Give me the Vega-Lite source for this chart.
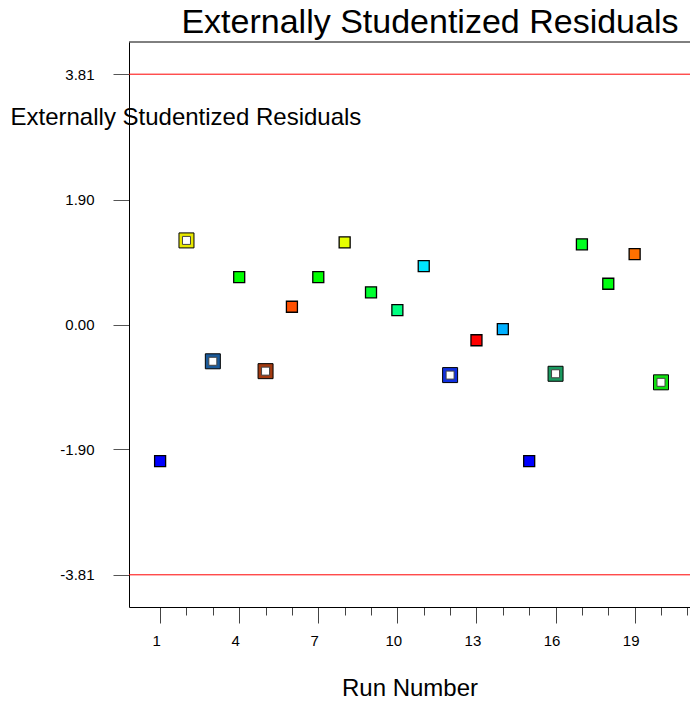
{
  "$schema": "https://vega.github.io/schema/vega-lite/v6.json",
  "width": 561,
  "height": 565,
  "autosize": "none",
  "padding": {"left": 129, "top": 42, "right": 0, "bottom": 121},
  "background": "white",
  "title": {
    "text": "Externally Studentized Residuals",
    "anchor": "end",
    "fontSize": 34,
    "fontWeight": "normal",
    "font": "Liberation Sans",
    "color": "black",
    "baseline": "alphabetic",
    "offset": 4,
    "dy": 29,
    "dx": -12
  },
  "config": {
    "view": {"stroke": null},
    "font": "Liberation Sans",
    "axis": {"labelOverlap": false, "labelBound": false, "labelFlush": false}
  },
  "datasets": {
    "runs": [
      {"run": 1, "residual": -2.08, "flagged": false},
      {"run": 2, "residual": 1.28, "flagged": true},
      {"run": 3, "residual": -0.56, "flagged": true},
      {"run": 4, "residual": 0.72, "flagged": false},
      {"run": 5, "residual": -0.71, "flagged": true},
      {"run": 6, "residual": 0.27, "flagged": false},
      {"run": 7, "residual": 0.72, "flagged": false},
      {"run": 8, "residual": 1.25, "flagged": false},
      {"run": 9, "residual": 0.49, "flagged": false},
      {"run": 10, "residual": 0.22, "flagged": false},
      {"run": 11, "residual": 0.89, "flagged": false},
      {"run": 12, "residual": -0.77, "flagged": true},
      {"run": 13, "residual": -0.24, "flagged": false},
      {"run": 14, "residual": -0.07, "flagged": false},
      {"run": 15, "residual": -2.08, "flagged": false},
      {"run": 16, "residual": -0.75, "flagged": true},
      {"run": 17, "residual": 1.22, "flagged": false},
      {"run": 18, "residual": 0.62, "flagged": false},
      {"run": 19, "residual": 1.07, "flagged": false},
      {"run": 20, "residual": -0.88, "flagged": true}
    ],
    "limits": [{"residual": 3.81}, {"residual": -3.81}]
  },
  "encoding": {
    "y": {
      "field": "residual",
      "type": "quantitative",
      "scale": {"domain": [-4.30, 4.30], "nice": false, "zero": false},
      "axis": {
        "values": [-3.81, -1.90, 0, 1.90, 3.81],
        "labelExpr": "datum.value < 0 ? '-' + format(-datum.value, '.2f') : format(datum.value, '.2f')",
        "grid": false,
        "domainColor": "black",
        "tickColor": "#555555",
        "tickSize": 16,
        "labelPadding": 19,
        "labelFontSize": 15,
        "labelColor": "black",
        "labelFont": "Liberation Sans",
        "title": "Externally Studentized Residuals",
        "titleAngle": 0,
        "titleX": -119,
        "titleY": 75,
        "titleAlign": "left",
        "titleBaseline": "middle",
        "titleFontSize": 24,
        "titleFontWeight": "normal",
        "titleFont": "Liberation Sans",
        "titleColor": "black"
      }
    },
    "x": {
      "field": "run",
      "type": "quantitative",
      "scale": {"domain": [-0.18, 21.1], "nice": false, "zero": false},
      "axis": {
        "values": [1,2,3,4,5,6,7,8,9,10,11,12,13,14,15,16,17,18,19,20,21],
        "labelExpr": "(datum.value - 1) % 3 === 0 ? datum.label : ''",
        "labelOverlap": false,
        "grid": false,
        "domainColor": "black",
        "tickColor": "#444444",
        "tickSize": {"condition": {"test": "(datum.value - 1) % 3 === 0", "value": 16}, "value": 8},
        "labelPadding": 10,
        "labelOffset": -4,
        "labelFontSize": 15,
        "labelColor": "black",
        "labelFont": "Liberation Sans",
        "title": "Run Number",
        "titleY": 81,
        "titleBaseline": "middle",
        "titleFontSize": 24,
        "titleFontWeight": "normal",
        "titleFont": "Liberation Sans",
        "titleColor": "black"
      }
    }
  },
  "layer": [
    {
      "data": {"name": "runs"},
      "transform": [{"filter": "!datum.flagged"}],
      "mark": {"type": "square", "size": 121, "filled": true, "stroke": "black", "strokeWidth": 1.3, "opacity": 1},
      "encoding": {
        "color": {
          "field": "run",
          "type": "nominal",
          "legend": null,
          "scale": {
            "domain": [1,2,3,4,5,6,7,8,9,10,11,12,13,14,15,16,17,18,19,20],
            "range": ["#0000ff","#e8e800","#1a5a9a","#00ff00","#a33a10","#ff5000","#00ff00","#e6ff00","#00ff30","#00ff80","#00e5ff","#1030e0","#ff0000","#00b0ff","#0000ff","#1a9a60","#00ff20","#00ff10","#ff7000","#10e010"]
          }
        }
      }
    },
    {
      "data": {"name": "runs"},
      "transform": [{"filter": "datum.flagged"}],
      "mark": {"type": "square", "size": 225, "filled": true, "stroke": "black", "strokeWidth": 1, "opacity": 1},
      "encoding": {
        "color": {"field": "run", "type": "nominal", "legend": null}
      }
    },
    {
      "data": {"name": "runs"},
      "transform": [{"filter": "datum.flagged"}],
      "mark": {"type": "square", "size": 64, "filled": true, "color": "white", "stroke": "#444444", "strokeWidth": 1, "opacity": 1}
    },
    {
      "data": {"name": "limits"},
      "mark": {"type": "rule", "color": "#ff0000", "strokeWidth": 1},
      "encoding": {"x": {"value": 0}, "x2": {"value": 561}}
    },
    {
      "data": {"name": "limits"},
      "transform": [{"filter": "datum.residual > 0"}],
      "mark": {"type": "rule", "color": "black", "strokeWidth": 1},
      "encoding": {"y": {"datum": 4.30}, "x": {"value": 0}, "x2": {"value": 561}}
    }
  ]
}
